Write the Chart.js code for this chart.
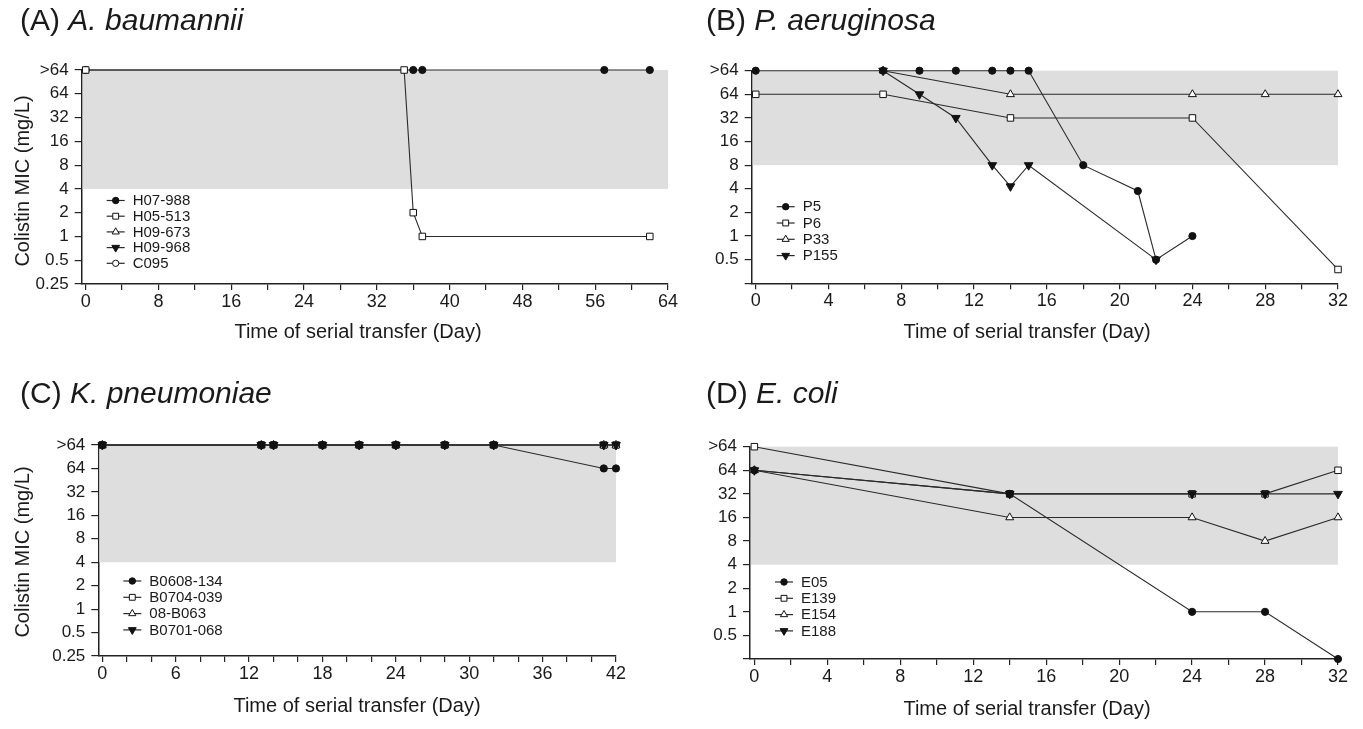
<!DOCTYPE html>
<html><head><meta charset="utf-8">
<script src="https://cdn.jsdelivr.net/npm/chart.js@4.4.1/dist/chart.umd.min.js"></script>
<style>
html,body{margin:0;padding:0;background:#fff}
body{width:1363px;height:729px;overflow:hidden;position:relative;font-family:"Liberation Sans",Arial,sans-serif;color:#1a1a1a}
canvas{position:absolute}
.pt{position:absolute;font-size:30px;white-space:nowrap;line-height:1;transform:translateY(-50%)}
.xt{position:absolute;font-size:20px;white-space:nowrap;line-height:1;transform:translate(-50%,-50%)}
.yt{position:absolute;font-size:20px;white-space:nowrap;line-height:1;transform:translate(-50%,-50%) rotate(-90deg)}
</style></head><body>
<canvas id="cA" width="690" height="365" style="left:0;top:0"></canvas>
<canvas id="cB" width="673" height="365" style="left:690px;top:0"></canvas>
<canvas id="cC" width="690" height="364" style="left:0;top:365px"></canvas>
<canvas id="cD" width="673" height="364" style="left:690px;top:365px"></canvas>

<div class="pt" style="left:20px;top:20px">(A) <i>A. baumannii</i></div>
<div class="pt" style="left:706px;top:20px">(B) <i>P. aeruginosa</i></div>
<div class="pt" style="left:20px;top:393px">(C) <i>K. pneumoniae</i></div>
<div class="pt" style="left:706px;top:393px">(D) <i>E. coli</i></div>

<div class="yt" style="left:22px;top:181px">Colistin MIC (mg/L)</div>
<div class="yt" style="left:22px;top:552px">Colistin MIC (mg/L)</div>
<div class="xt" style="left:358px;top:331px">Time of serial transfer (Day)</div>
<div class="xt" style="left:1027px;top:331px">Time of serial transfer (Day)</div>
<div class="xt" style="left:357px;top:705px">Time of serial transfer (Day)</div>
<div class="xt" style="left:1027px;top:708px">Time of serial transfer (Day)</div>

<script>
// ">64" is stored as 128 (one two-fold step above 64)
const GT64 = 128;

// ---- y ticks (log2 of MIC) ----
const yTickVals = [-2, -1, 0, 1, 2, 3, 4, 5, 6, 7];
const yLabelsAC = ['0.25', '0.5', '1', '2', '4', '8', '16', '32', '64', '>64'];
const yLabelsBD = ['', '0.5', '1', '2', '4', '8', '16', '32', '64', '>64'];

// ---- x ticks ----
const xTicksA = [0, 4, 8, 12, 16, 20, 24, 28, 32, 36, 40, 44, 48, 52, 56, 60, 64];
const xLabelsA = ['0', '', '8', '', '16', '', '24', '', '32', '', '40', '', '48', '', '56', '', '64'];
const xTicksB = [0, 2, 4, 6, 8, 10, 12, 14, 16, 18, 20, 22, 24, 26, 28, 30, 32];
const xLabelsB = ['0', '', '4', '', '8', '', '12', '', '16', '', '20', '', '24', '', '28', '', '32'];
const xTicksC = [0, 2, 4, 6, 8, 10, 12, 14, 16, 18, 20, 22, 24, 26, 28, 30, 32, 34, 36, 38, 40, 42];
const xLabelsC = ['0', '', '', '6', '', '', '12', '', '', '18', '', '', '24', '', '', '30', '', '', '36', '', '', '42'];
const xTicksD = xTicksB;
const xLabelsD = xLabelsB;

// ---- shaded band (MIC low, MIC high) ----
const shadeA = [4, GT64];
const shadeB = [8, GT64];
const shadeC = [4, GT64];
const shadeD = [4, GT64];

// ---- (A) A. baumannii ----
const namesA = ['H07-988', 'H05-513', 'H09-673', 'H09-968', 'C095'];
const daysA_H07988 = [0, 36, 37, 57, 62];
const micA_H07988 = [GT64, GT64, GT64, GT64, GT64];
const daysA_H05513 = [0, 35, 36, 37, 62];
const micA_H05513 = [GT64, GT64, 2, 1, 1];
const daysA_H09673 = [];
const micA_H09673 = [];
const daysA_H09968 = [];
const micA_H09968 = [];
const daysA_C095 = [];
const micA_C095 = [];

// ---- (B) P. aeruginosa ----
const namesB = ['P5', 'P6', 'P33', 'P155'];
const daysB_P5 = [0, 7, 9, 11, 13, 14, 15, 18, 21, 22, 24];
const micB_P5 = [GT64, GT64, GT64, GT64, GT64, GT64, GT64, 8, 3.75, 0.5, 1];
const daysB_P6 = [0, 7, 14, 24, 32];
const micB_P6 = [64, 64, 32, 32, 0.375];
const daysB_P33 = [7, 14, 24, 28, 32];
const micB_P33 = [GT64, 64, 64, 64, 64];
const daysB_P155 = [7, 9, 11, 13, 14, 15, 22];
const micB_P155 = [GT64, 64, 32, 8, 4.3, 8, 0.5];

// ---- (C) K. pneumoniae ----
const namesC = ['B0608-134', 'B0704-039', '08-B063', 'B0701-068'];
const daysC = [0, 13, 14, 18, 21, 24, 28, 32, 41, 42];
const micC_B0608134 = [GT64, GT64, GT64, GT64, GT64, GT64, GT64, GT64, 64, 64];
const micC_B0704039 = [GT64, GT64, GT64, GT64, GT64, GT64, GT64, GT64, GT64, GT64];
const micC_08B063 = [GT64, GT64, GT64, GT64, GT64, GT64, GT64, GT64, GT64, GT64];
const micC_B0701068 = [GT64, GT64, GT64, GT64, GT64, GT64, GT64, GT64, GT64, GT64];

// ---- (D) E. coli ----
const namesD = ['E05', 'E139', 'E154', 'E188'];
const daysD = [0, 14, 24, 28, 32];
const micD_E05 = [64, 32, 1, 1, 0.25];
const micD_E139 = [GT64, 32, 32, 32, 64];
const micD_E154 = [64, 16, 16, 8, 16];
const micD_E188 = [64, 32, 32, 32, 32];

// ---------------- styles ----------------
const INK = '#1a1a1a';
const LINE = '#2a2a2a';
const MK = {
  fcircle: { pointStyle: 'circle', pointRadius: 3.6, pointBackgroundColor: '#111', pointBorderColor: '#111', pointRotation: 0, order: 0 },
  osquare: { pointStyle: 'rect', pointRadius: 4.6, pointBackgroundColor: '#fff', pointBorderColor: '#111', pointRotation: 0, order: 1 },
  otri:    { pointStyle: 'triangle', pointRadius: 4.6, pointBackgroundColor: '#fff', pointBorderColor: '#111', pointRotation: 0, order: 1 },
  ftri:    { pointStyle: 'triangle', pointRadius: 5, pointBackgroundColor: '#111', pointBorderColor: '#111', pointRotation: 180, order: 0 },
  ocircle: { pointStyle: 'circle', pointRadius: 3.5, pointBackgroundColor: '#fff', pointBorderColor: '#111', pointRotation: 0, order: 1 }
};

function series(label, days, mic, mk, extra) {
  return Object.assign({
    label: label,
    data: days.map((d, i) => ({ x: d, y: Math.log2(mic[i]) })),
    showLine: true,
    clip: false,
    borderColor: LINE,
    borderWidth: 1.1,
    pointBorderWidth: 1,
    tension: 0
  }, MK[mk], extra || {});
}

const shadePlugin = {
  id: 'shade',
  beforeDatasetsDraw(chart, args, o) {
    const { ctx, chartArea, scales } = chart;
    const yTop = scales.y.getPixelForValue(Math.log2(o.range[1]));
    const yBot = scales.y.getPixelForValue(Math.log2(o.range[0]));
    ctx.save();
    ctx.fillStyle = '#dedede';
    ctx.fillRect(chartArea.left + 1, yTop, chartArea.right - chartArea.left - 1, yBot - yTop);
    ctx.restore();
  }
};

const legendPlugin = {
  id: 'innerLegend',
  afterDatasetsDraw(chart, args, o) {
    const { ctx, chartArea } = chart;
    ctx.save();
    chart.data.datasets.forEach((ds, i) => {
      const y = chartArea.top + o.top + i * o.gap;
      const x0 = chartArea.left + o.left;
      ctx.strokeStyle = LINE;
      ctx.lineWidth = 1.2;
      ctx.beginPath();
      ctx.moveTo(x0, y);
      ctx.lineTo(x0 + o.len, y);
      ctx.stroke();
      ctx.fillStyle = ds.pointBackgroundColor;
      ctx.strokeStyle = ds.pointBorderColor;
      ctx.lineWidth = 1;
      Chart.helpers.drawPoint(ctx, { pointStyle: ds.pointStyle, radius: ds.pointRadius * 0.9, rotation: ds.pointRotation, borderWidth: 1 }, x0 + o.len / 2, y);
      ctx.fillStyle = INK;
      ctx.font = '15px "Liberation Sans", Arial, sans-serif';
      ctx.textBaseline = 'middle';
      ctx.textAlign = 'left';
      ctx.fillText(ds.label, chartArea.left + o.text, y + 0.5);
    });
    ctx.restore();
  }
};

function makeChart(id, cfg) {
  const border = { display: true, color: '#222', width: 1.5 };
  return new Chart(document.getElementById(id), {
    type: 'scatter',
    data: { datasets: cfg.datasets },
    plugins: [shadePlugin, legendPlugin],
    options: {
      responsive: false,
      animation: false,
      events: [],
      layout: { padding: cfg.pad },
      plugins: {
        legend: { display: false },
        tooltip: { enabled: false },
        shade: { range: cfg.shade },
        innerLegend: { top: cfg.legTop, gap: cfg.legGap, left: 25, len: 18, text: 51 }
      },
      scales: {
        x: {
          type: 'linear', min: cfg.xmin, max: cfg.xmax,
          border: border,
          grid: { display: true, drawOnChartArea: false, drawTicks: true, tickLength: 6, color: '#222', lineWidth: 1.2 },
          afterBuildTicks: s => { s.ticks = cfg.xTicks.map(v => ({ value: v })); },
          afterFit: s => { s.height = cfg.xh; },
          ticks: { autoSkip: false, maxRotation: 0, padding: 1, color: INK,
                   font: { family: '"Liberation Sans", Arial, sans-serif', size: 18 },
                   callback: (v, i) => cfg.xLabels[i] }
        },
        y: {
          type: 'linear', min: -2, max: 7,
          border: border,
          grid: { display: true, drawOnChartArea: false, drawTicks: true, tickLength: 7, color: '#222', lineWidth: 1.2 },
          afterBuildTicks: s => { s.ticks = yTickVals.map(v => ({ value: v })); },
          afterFit: s => { s.width = cfg.yw; },
          ticks: { autoSkip: false, padding: 6, color: INK,
                   font: { family: '"Liberation Sans", Arial, sans-serif', size: 17 },
                   callback: (v, i) => cfg.yLabels[i] }
        }
      }
    }
  });
}

makeChart('cA', {
  datasets: [
    series(namesA[0], daysA_H07988, micA_H07988, 'fcircle'),
    series(namesA[1], daysA_H05513, micA_H05513, 'osquare', { order: -1 }),
    series(namesA[2], daysA_H09673, micA_H09673, 'otri'),
    series(namesA[3], daysA_H09968, micA_H09968, 'ftri'),
    series(namesA[4], daysA_C095, micA_C095, 'ocircle')
  ],
  pad: { left: 0, top: 70, right: 22, bottom: 0 },
  yw: 81.7, xh: 81, xmin: -0.44, xmax: 64,
  xTicks: xTicksA, xLabels: xLabelsA, yLabels: yLabelsAC, shade: shadeA,
  legTop: 130.5, legGap: 15.7
});

makeChart('cB', {
  datasets: [
    series(namesB[0], daysB_P5, micB_P5, 'fcircle'),
    series(namesB[1], daysB_P6, micB_P6, 'osquare'),
    series(namesB[2], daysB_P33, micB_P33, 'otri'),
    series(namesB[3], daysB_P155, micB_P155, 'ftri', { order: 0.5 })
  ],
  pad: { left: 0, top: 70.7, right: 25, bottom: 0 },
  yw: 61.7, xh: 81.7, xmin: -0.22, xmax: 32,
  xTicks: xTicksB, xLabels: xLabelsB, yLabels: yLabelsBD, shade: shadeB,
  legTop: 136, legGap: 16.3
});

makeChart('cC', {
  datasets: [
    series(namesC[0], daysC, micC_B0608134, 'fcircle'),
    series(namesC[1], daysC, micC_B0704039, 'osquare'),
    series(namesC[2], daysC, micC_08B063, 'otri'),
    series(namesC[3], daysC, micC_B0701068, 'ftri', { order: 0.5 })
  ],
  pad: { left: 0, top: 80, right: 74, bottom: 0 },
  yw: 98.3, xh: 73, xmin: -0.33, xmax: 42,
  xTicks: xTicksC, xLabels: xLabelsC, yLabels: yLabelsAC, shade: shadeC,
  legTop: 136, legGap: 16.3
});

makeChart('cD', {
  datasets: [
    series(namesD[0], daysD, micD_E05, 'fcircle'),
    series(namesD[1], daysD, micD_E139, 'osquare'),
    series(namesD[2], daysD, micD_E154, 'otri'),
    series(namesD[3], daysD, micD_E188, 'ftri', { order: 0.5 })
  ],
  pad: { left: 0, top: 81.7, right: 25, bottom: 0 },
  yw: 60, xh: 70, xmin: -0.24, xmax: 32,
  xTicks: xTicksD, xLabels: xLabelsD, yLabels: yLabelsBD, shade: shadeD,
  legTop: 135.3, legGap: 16.3
});
</script>
</body></html>
